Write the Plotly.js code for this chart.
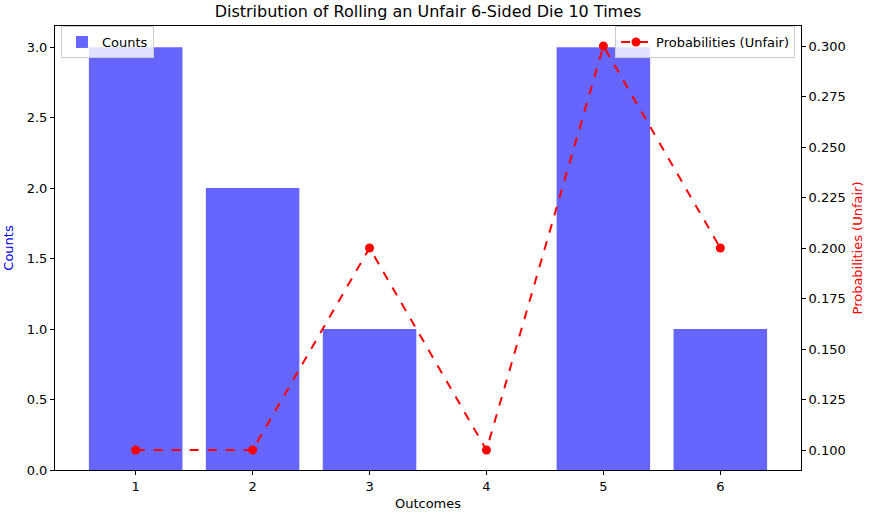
<!DOCTYPE html>
<html>
<head>
<meta charset="utf-8">
<script src="https://cdn.plot.ly/plotly-3.0.1.min.js"></script>
<style>
	body { margin: 0; padding: 0; background: #fff; }
	#chart { width: 875px; height: 516px; }
</style>
</head>
<body>
<div id="chart"></div>
<script>
var outcomes = [1, 2, 3, 4, 5, 6];
var counts = [3, 2, 1, 0, 3, 1];
var probs_unfair = [0.1, 0.1, 0.2, 0.1, 0.3, 0.2];

var font = "DejaVu Sans, sans-serif";

var bars = {
	type: "bar",
	x: outcomes,
	y: counts,
	width: 0.8,
	name: "Counts",
	marker: {
		color: "rgba(0,0,255,0.6)",
		line: { width: 0 }
	},
	legend: "legend"
};

var line = {
	type: "scatter",
	mode: "lines+markers",
	x: outcomes,
	y: probs_unfair,
	yaxis: "y2",
	name: "Probabilities (Unfair)",
	line: { color: "red", dash: "dash", width: 2 },
	marker: { color: "red", size: 9 },
	legend: "legend2"
};

var axis_common = {
	showgrid: false,
	zeroline: false,
	showline: true,
	linecolor: "black",
	linewidth: 1,
	ticks: "outside",
	ticklen: 4,
	tickcolor: "black",
	tickfont: { family: font, size: 13, color: "black" }
};

var layout = {
	width: 875,
	height: 516,
	paper_bgcolor: "white",
	plot_bgcolor: "white",
	font: { family: font, size: 13, color: "black" },
	margin: { l: 55, r: 74, t: 26, b: 46, autoexpand: false },
	title: {
		text: "Distribution of Rolling an Unfair 6-Sided Die 10 Times",
		font: { family: font, size: 16, color: "black" },
		x: 0.5, xref: "paper", xanchor: "center",
		y: 0.977, yref: "container", yanchor: "middle"
	},
	xaxis: Object.assign({}, axis_common, {
		range: [0.31, 6.69],
		tickvals: outcomes,
		mirror: true,
		title: { text: "Outcomes", font: { family: font, size: 13 }, standoff: 6 }
	}),
	yaxis: Object.assign({}, axis_common, {
		range: [0, 3.15],
		tickvals: [0, 0.5, 1, 1.5, 2, 2.5, 3],
		ticktext: ["0.0", "0.5", "1.0", "1.5", "2.0", "2.5", "3.0"],
		title: { text: "Counts", font: { family: font, size: 13, color: "blue" }, standoff: 10 }
	}),
	yaxis2: Object.assign({}, axis_common, {
		overlaying: "y",
		side: "right",
		range: [0.0901, 0.3099],
		tickvals: [0.1, 0.125, 0.15, 0.175, 0.2, 0.225, 0.25, 0.275, 0.3],
		ticktext: ["0.100", "0.125", "0.150", "0.175", "0.200", "0.225", "0.250", "0.275", "0.300"],
		title: { text: "Probabilities (Unfair)", font: { family: font, size: 13, color: "red" }, standoff: 8 }
	}),
	legend: {
		x: 0.008, y: 1.0, xanchor: "left", yanchor: "top",
		bgcolor: "rgba(255,255,255,0.8)",
		bordercolor: "#cccccc", borderwidth: 1,
		font: { family: font, size: 13 }
	},
	legend2: {
		x: 0.992, y: 1.0, xanchor: "right", yanchor: "top",
		bgcolor: "rgba(255,255,255,0.8)",
		bordercolor: "#cccccc", borderwidth: 1,
		font: { family: font, size: 13 }
	},
	showlegend: true,
	bargap: 0.2
};

Plotly.newPlot("chart", [bars, line], layout, { displayModeBar: false, staticPlot: true });
</script>
</body>
</html>
